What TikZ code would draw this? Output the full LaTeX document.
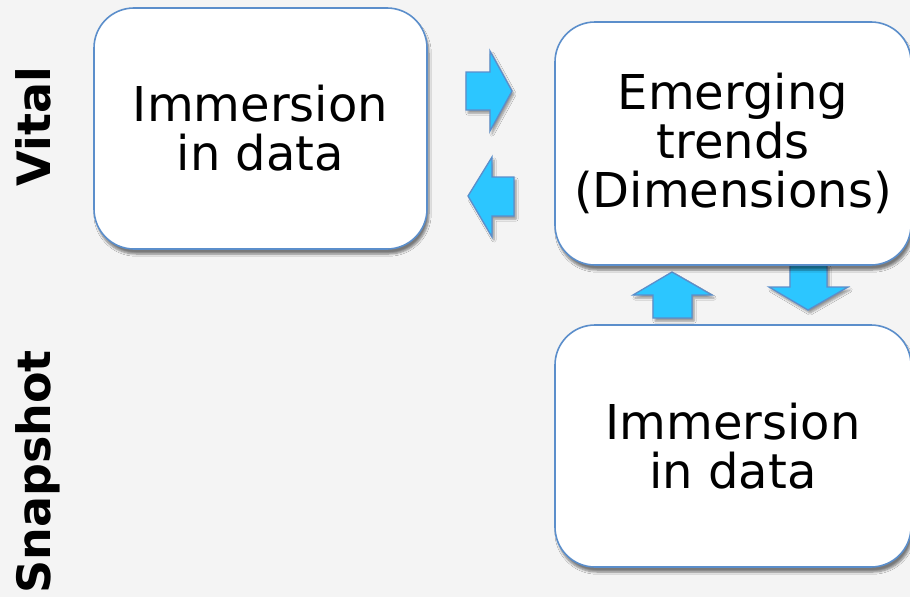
\documentclass[tikz,border=0pt]{standalone}
\usepackage{fontspec}
\setmainfont{DejaVu Sans}
\usetikzlibrary{shadows.blur}
\definecolor{bg}{HTML}{F4F4F4}
\definecolor{edgeblue}{HTML}{5B8ECB}
\definecolor{arrowfill}{HTML}{2CC6FF}
\tikzset{
  card/.style={draw=edgeblue, line width=1.6pt, fill=white, rounded corners=40pt,
    align=center, inner sep=0pt, font={\fontsize{48}{49}\selectfont},
    blur shadow={shadow xshift=2pt, shadow yshift=-5pt, shadow blur steps=6, shadow opacity=50}},
  blockarrow/.style={draw=edgeblue, line width=1.3pt, fill=arrowfill, line join=miter,
    blur shadow={shadow xshift=2pt, shadow yshift=-3pt, shadow blur steps=5, shadow opacity=40}},
  rowlabel/.style={rotate=90, anchor=base east, inner sep=0pt,
    font={\fontsize{46}{46}\selectfont\bfseries}}
}
\begin{document}
\begin{tikzpicture}[x=1pt, y=-1pt]
  % canvas
  \fill[bg] (0,0) rectangle (910,597);
  \useasboundingbox (0,0) rectangle (910,597);

  % row labels
  \node[rowlabel] (vital) at (50,67) {Vital};
  \node[rowlabel] (snap) at (50,350) {Snapshot};

  % block arrows between the cards
  \draw[blockarrow] (466,72) -- (490,72) -- (490,51) -- (512,91) -- (490,131)
    -- (490,110) -- (466,110) -- cycle;
  \draw[blockarrow] (514,177) -- (492,177) -- (492,157) -- (468,196) -- (492,237)
    -- (492,216) -- (514,216) -- cycle;
  \draw[blockarrow] (653,318) -- (653,295) -- (633,295) -- (672,272) -- (712,295)
    -- (692,295) -- (692,318) -- cycle;
  \draw[blockarrow] (790,265) -- (790,287) -- (769,287) -- (808,310) -- (848,287)
    -- (827,287) -- (827,265) -- cycle;

  % cards
  \node[card, minimum width=333pt, minimum height=241pt] (imm1) at (260.5,128.5)
    {Immersion\\in data};
  \node[card, minimum width=356pt, minimum height=243pt] (trends) at (733,143.5)
    {Emerging\\trends\\(Dimensions)};
  \node[card, minimum width=356pt, minimum height=242pt] (imm2) at (733,446)
    {Immersion\\in data};
\end{tikzpicture}
\end{document}
